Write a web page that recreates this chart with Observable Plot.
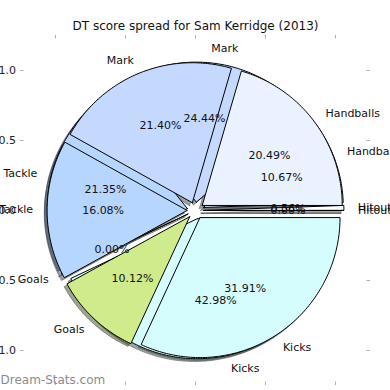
<!DOCTYPE html>
<html><head><meta charset="utf-8">
<script src="https://cdn.jsdelivr.net/npm/d3@7"></script>
<script src="https://cdn.jsdelivr.net/npm/@observablehq/plot@0.6"></script>
<style>body{margin:0;background:#fff} svg{font-family:"DejaVu Sans",sans-serif}</style>
</head><body><div id="chart"></div>
<script>
const categories = ["Hitouts", "Handballs", "Mark", "Tackle", "Goals", "Kicks"];
const valuesFront = [0.00, 20.49, 21.40, 16.08, 10.12, 31.91];
const valuesBack = [0.56, 10.67, 24.44, 21.35, 0.00, 42.98];
const sliceColors = ["#ffffff", "#eaf1ff", "#c5d9ff", "#b6d6ff", "#d0eb8b", "#d6fdfd"];
const xTicks = [-1, -0.5, 0, 0.5, 1];
const yTicks = [-1, -0.5, 0, 0.5, 1];
const title = "DT score spread for Sam Kerridge (2013)";
const watermark = "Dream-Stats.com";

const explode = 0.06, labelDistance = 1.1, pctDistance = 0.6, shadowOffset = 0.02;

function pieSlices(values) {
  const total = d3.sum(values);
  let a = 0;
  return values.map((v, i) => {
    const t1 = a, t2 = a + 360 * v / total; a = t2;
    const tm = (t1 + t2) / 2 * Math.PI / 180;
    const cx = explode * Math.cos(tm), cy = explode * Math.sin(tm);
    const pts = [{x: cx, y: cy}];
    const n = Math.max(2, Math.ceil((t2 - t1) / 1));
    for (let k = 0; k <= n; k++) {
      const t = (t1 + (t2 - t1) * k / n) * Math.PI / 180;
      pts.push({x: cx + Math.cos(t), y: cy + Math.sin(t)});
    }
    pts.push({x: cx, y: cy});
    return {
      name: categories[i], value: v, color: sliceColors[i], points: pts,
      lx: cx + labelDistance * Math.cos(tm), ly: cy + labelDistance * Math.sin(tm),
      px: cx + pctDistance * Math.cos(tm), py: cy + pctDistance * Math.sin(tm),
      pct: (100 * v / total).toFixed(2) + "%"
    };
  });
}

const back = pieSlices(valuesBack);
const front = pieSlices(valuesFront);
const all = [...back, ...front];

function darker(c) {
  const r = d3.rgb(c);
  return d3.rgb(r.r * 0.3, r.g * 0.3, r.b * 0.3).formatHex();
}

const marks = [];
for (const s of all) {
  marks.push(Plot.line(s.points, {
    x: d => d.x - shadowOffset, y: d => d.y - shadowOffset,
    fill: darker(s.color), fillOpacity: 0.5, stroke: darker(s.color), strokeOpacity: 0.5, strokeWidth: 1
  }));
}
for (const s of all) {
  marks.push(Plot.line(s.points, {
    x: "x", y: "y", fill: s.color, stroke: "black", strokeWidth: 1, strokeLinejoin: "miter"
  }));
}

const fmt = d3.format(".1f");
marks.push(
  Plot.ruleX(xTicks, {x: d => d, y1: 1.25, y2: 1.225, stroke: "#b0b0b0"}),
  Plot.ruleX(xTicks, {x: d => d, y1: -1.25, y2: -1.225, stroke: "#b0b0b0"}),
  Plot.ruleY(yTicks, {y: d => d, x1: -1.25, x2: -1.225, stroke: "#b0b0b0"}),
  Plot.ruleY(yTicks, {y: d => d, x1: 1.25, x2: 1.225, stroke: "#b0b0b0"}),
  Plot.axisX(xTicks, {anchor: "bottom", tickSize: 0, tickPadding: 5, tickFormat: fmt, fontSize: 11, label: null, fill: "#222"}),
  Plot.axisY(yTicks, {anchor: "left", tickSize: 0, tickPadding: 4.5, tickFormat: fmt, fontSize: 11, label: null, fill: "#222"}),
  Plot.text(all.filter(d => d.lx >= 0), {x: "lx", y: "ly", text: "name", textAnchor: "start", fontSize: 11, fill: "#111"}),
  Plot.text(all.filter(d => d.lx < 0), {x: "lx", y: "ly", text: "name", textAnchor: "end", fontSize: 11, fill: "#111"}),
  Plot.text(all, {x: "px", y: "py", text: "pct", textAnchor: "middle", fontSize: 11, fill: "#111"}),
  Plot.text([title], {frameAnchor: "top", dy: -9, lineAnchor: "middle", fontSize: 12, fill: "#111"}),
  Plot.text([watermark], {frameAnchor: "bottom-left", textAnchor: "start", dx: -20, dy: -5, lineAnchor: "middle", fontSize: 12, fill: "#8c8c8c"})
);

const chart = Plot.plot({
  width: 390, height: 390,
  marginLeft: 20, marginRight: 20, marginTop: 35, marginBottom: 5,
  x: {domain: [-1.25, 1.25]},
  y: {domain: [-1.25, 1.25]},
  style: {fontFamily: "'DejaVu Sans', sans-serif", background: "#fff", overflow: "visible"},
  marks
});
document.getElementById("chart").appendChild(chart);
</script>
</body></html>
